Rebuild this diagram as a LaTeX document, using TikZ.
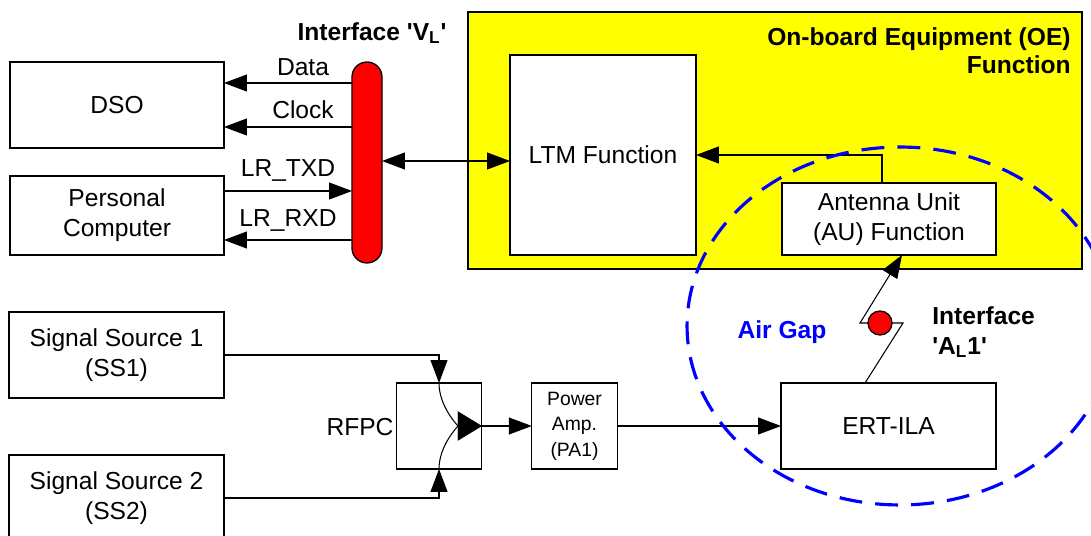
\documentclass[tikz,border=0pt]{standalone}
\usepackage{fontspec}
\setmainfont{Liberation Sans}
\usepackage{tikz}
\usetikzlibrary{positioning,calc,arrows.meta}
\newcommand{\boxfont}{\fontsize{14}{17}\selectfont}
\newcommand{\headfont}{\fontsize{14}{16}\selectfont\bfseries}
\newcommand{\ampfont}{\fontsize{11}{14.5}\selectfont}
\definecolor{oeyellow}{RGB}{255,255,0}
\definecolor{gapblue}{RGB}{0,0,255}
\tikzset{
  basic/.style  = {draw, rectangle, line width=0.75pt, inner sep=0pt, outer sep=0pt,
                   align=center, font=\boxfont},
  block/.style  = {basic, fill=white, minimum width=4.28cm, minimum height=1.72cm},
  small/.style  = {basic, fill=white, minimum width=1.71cm, minimum height=1.72cm},
  bus/.style    = {basic, fill=red, rounded corners=0.3cm, minimum width=0.6cm,
                   minimum height=4.02cm},
  lbl/.style    = {font=\boxfont, inner sep=0pt},
  head/.style   = {font=\headfont, inner sep=0pt},
  sig/.style    = {-{Triangle[length=0.46cm,width=0.34cm]}, line width=0.6pt},
  bisig/.style  = {{Triangle[length=0.46cm,width=0.34cm]}-{Triangle[length=0.46cm,width=0.34cm]},
                   line width=0.6pt},
  comb/.style   = {-{Triangle[length=0.48cm,width=0.58cm]}, line width=0.6pt},
  airgap/.style = {draw=gapblue, line width=1.8pt, dash pattern=on 13pt off 7.5pt}
}

\begin{document}
\begin{tikzpicture}[x=0.02cm, y=-0.02cm]
    \useasboundingbox (0,0) rectangle (1091,536);
    % on-board equipment
    \node[basic, fill=oeyellow, minimum width=12.28cm, minimum height=5.14cm] (oe) at (775,140.5) {};
    \node[head, anchor=north east, align=right] (oet) at (1071,27) {On-board Equipment (OE)\\Function};
    \node[basic, fill=white, minimum width=3.72cm, minimum height=4cm] (ltm) at (603,155) {LTM Function};
    \node[basic, fill=white, minimum width=4.28cm, minimum height=1.44cm] (au) at (889,219) {Antenna Unit\\(AU) Function};
    % ground side
    \node[block] (dso) at (117,105) {DSO};
    \node[block, minimum height=1.58cm] (pc) at (117,215.5) {Personal\\Computer};
    \node[bus] (vl) at (367,162.5) {};
    \node[head] (vlt) at (372,33) {Interface \textquotesingle V\textsubscript{L}\textquotesingle};
    \node[block, minimum width=4.3cm] (ss1) at (116.5,355) {Signal Source 1\\(SS1)};
    \node[block, minimum width=4.3cm] (ss2) at (116.5,498) {Signal Source 2\\(SS2)};
    \node[small] (rfpc) at (439,426) {};
    \node[lbl] (rfpct) at (360,427) {RFPC};
    \node[small, font=\ampfont] (pa) at (574.5,426) {Power\\Amp.\\(PA1)};
    \node[block, minimum width=4.3cm] (ert) at (888.5,426) {ERT-ILA};
    % signal labels
    \node[lbl, anchor=base] (ldata) at (303,76) {Data};
    \node[lbl, anchor=base] (lclk) at (303,119) {Clock};
    \node[lbl, anchor=base] (ltxd) at (288,177) {LR\_TXD};
    \node[lbl, anchor=base] (lrxd) at (288,227) {LR\_RXD};
    \node[head, text=gapblue] (gap) at (782,332) {Air Gap};
    \node[head, anchor=north west, align=left, font=\fontsize{14}{17}\selectfont\bfseries] (alt) at (932,306) {Interface\\\textquotesingle A\textsubscript{L}1\textquotesingle};
    % connectors
    \draw[sig] (vl.west |- 0,83) -- (dso.east |- 0,83);
    \draw[sig] (vl.west |- 0,127) -- (dso.east |- 0,127);
    \draw[sig] (pc.east |- 0,191) -- (vl.west |- 0,191);
    \draw[sig] (vl.west |- 0,240) -- (pc.east |- 0,240);
    \draw[bisig] (vl.east |- 0,161) -- (ltm.west |- 0,161);
    \draw[sig] ([xshift=-0.14cm]au.north) |- (ltm.east);
    \draw[sig] (ss1.east) -| (rfpc.north);
    \draw[sig] (ss2.east) -| (rfpc.south);
    \draw[comb] (rfpc.north) to[out=-90, in=180] (rfpc.east);
    \draw[comb] (rfpc.south) to[out=90, in=180] (rfpc.east);
    \draw[sig] (rfpc.east) -- (pa.west);
    \draw[sig] (pa.east) -- (ert.west);
    \draw[sig] (ert.north -| 865,0) -- (903,323) -- (860,323) -- (au.south -| 902,0);
    \node[circle, draw, line width=0.75pt, fill=red, minimum size=0.48cm, inner sep=0pt] (al) at (880,323) {};
    % air gap
    \draw[airgap] (900,326) ellipse [x radius=4.26cm, y radius=3.58cm];
\end{tikzpicture}
\end{document}
